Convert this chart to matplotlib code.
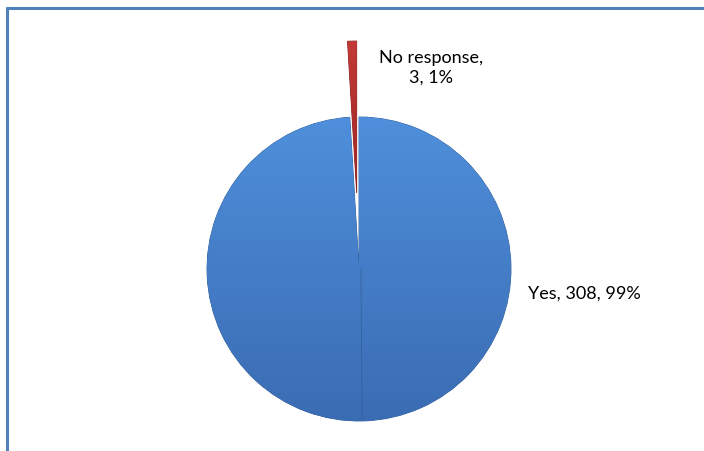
import numpy as np
import matplotlib
matplotlib.use("Agg")
import matplotlib.pyplot as plt
from matplotlib.colors import LinearSegmentedColormap
from matplotlib.lines import Line2D

# Survey responses
categories = ["Yes", "No response"]
counts = [308, 3]
colors_top = ["#4F8FDB", "#C23A36"]
colors_bottom = ["#3A6CB3", "#9E2624"]

W, H = 704, 452
fig = plt.figure(figsize=(W / 100, H / 100), dpi=100)
ax = fig.add_axes([0, 0, 1, 1])

center = (359, 182)
radius = 152
explode_frac = [0.0, 0.5]
explode = [f * radius for f in explode_frac]

wedges, _ = ax.pie(counts, startangle=90, counterclock=False, explode=explode,
                   center=center, radius=radius, colors=colors_top,
                   wedgeprops=dict(linewidth=0.6, edgecolor="#2F5A94"))
ax.set_xlim(0, W)
ax.set_ylim(0, H)
ax.set_aspect("equal")
ax.axis("off")

# vertical shading on each wedge; the exploded slice sits in front
for i, (w, ct, cb) in enumerate(zip(wedges, colors_top, colors_bottom)):
    z = 2 + 2 * i
    w.set_zorder(z)
    if i == 1:
        w.set_edgecolor("#7A1C1A")
    cmap = LinearSegmentedColormap.from_list("g", [cb, ct])
    x0, y0, x1, y1 = w.get_path().get_extents(w.get_patch_transform()).extents
    grad = np.linspace(0, 1, 256).reshape(-1, 1)
    im = ax.imshow(grad, cmap=cmap, origin="lower", aspect="auto",
                   extent=[x0, x1, y0, y1], zorder=z + 0.5)
    im.set_clip_path(w)

# seam down the lower half of the pie
ax.plot([center[0] + 2, center[0] + 3], [center[1], center[1] - radius + 1],
        color="#2F5A94", lw=0.7, alpha=0.6, zorder=3)
ax.set_xlim(0, W)
ax.set_ylim(0, H)

total = sum(counts)
labels = [f"{c}, {v}, {round(100 * v / total)}%" for c, v in zip(categories, counts)]
font = dict(family=["Lato", "DejaVu Sans"], fontsize=13, color="#000000")
ax.text(528, 158, labels[0], ha="left", va="center", zorder=10, **font)
ax.text(431, 384, labels[1].replace(", ", ",\n", 1), ha="center", va="center",
        linespacing=1.3, zorder=10, **font)

# chart frame (left and top edges)
border = "#4F81BD"
fig.add_artist(Line2D([6.5, 6.5], [0, H - 8], transform=None,
                      color=border, lw=2.2, solid_capstyle="butt"))
fig.add_artist(Line2D([5.5, W + 2], [H - 9, H - 9], transform=None,
                      color=border, lw=2.2, solid_capstyle="butt"))

fig.savefig("out.png", dpi=100, facecolor="white")
